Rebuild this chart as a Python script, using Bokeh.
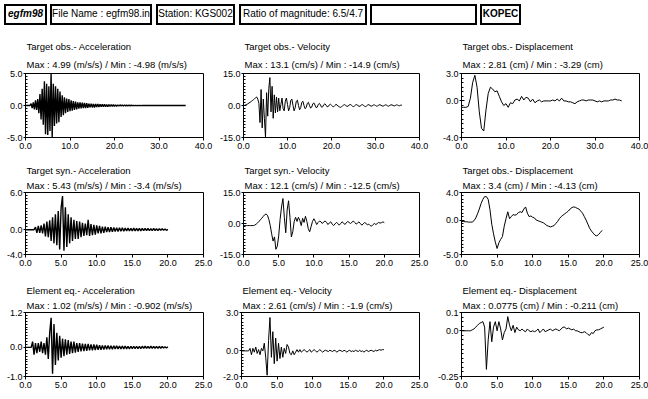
import numpy as np
from bokeh.plotting import figure
from bokeh.models import Div, FixedTicker, Range1d, NumeralTickFormatter, Title
from bokeh.layouts import column, row
from bokeh.embed import file_html
from bokeh.resources import INLINE

# ---------------- header ----------------
header_texts = ["egfm98", "File Name : egfm98.in", "Station: KGS002",
                "Ratio of magnitude: 6.5/4.7", "", "KOPEC"]

# ---------------- panel texts ----------------
titles = ["Target obs.- Acceleration", "Target obs.- Velocity", "Target obs.- Displacement",
          "Target syn.- Acceleration", "Target syn.- Velocity", "Target obs.- Displacement",
          "Element eq.- Acceleration", "Element eq.- Velocity", "Element eq.- Displacement"]
stats = ["Max : 4.99 (m/s/s) / Min : -4.98 (m/s/s)",
         "Max : 13.1 (cm/s) / Min : -14.9 (cm/s)",
         "Max : 2.81 (cm) / Min : -3.29 (cm)",
         "Max : 5.43 (m/s/s) / Min : -3.4 (m/s/s)",
         "Max : 12.1 (cm/s) / Min : -12.5 (cm/s)",
         "Max : 3.4 (cm) / Min : -4.13 (cm)",
         "Max : 1.02 (m/s/s) / Min : -0.902 (m/s/s)",
         "Max : 2.61 (cm/s) / Min : -1.9 (cm/s)",
         "Max : 0.0775 (cm) / Min : -0.211 (cm)"]

x_ticks_obs = [0, 10, 20, 30, 40]
x_ticks_syn = [0, 5, 10, 15, 20, 25]
y_ticks = [[-5, 0, 5], [-15, 0, 15], [-4, 0, 3],
           [-4, 0, 6], [-15, 0, 15], [-5, 0, 4],
           [-1, 0, 1.2], [-2, 0, 3], [-0.25, 0, 0.1]]
y_tick_labels = [["-5.0", "0.0", "5.0"], ["-15.0", "0.0", "15.0"], ["-4.0", "0.0", "3.0"],
                 ["-4.0", "0.0", "6.0"], ["-15.0", "0.0", "15.0"], ["-5.0", "0.0", "4.0"],
                 ["-1.0", "0.0", "1.2"], ["-2.0", "0.0", "3.0"], ["-0.25", "0.0", "0.1"]]
sample_step = [0.25, 0.25, 0.5, 0.2, 0.2, 0.25, 0.2, 0.2, 0.25]   # seconds between samples

# ---------------- time series ----------------
obs_acc = [0, 0, 0, 0,
           0, 0.3, -0.4, 0.5,
           -0.6, 0.8, -0.7, 1.0,
           -1.2, 1.8, -2.2, 2.6,
           -3.0, 3.8, -4.5, 3.4,
           -4.6, 3.0, -4.0, 4.99,
           -4.98, 3.4, -3.2, 3.0,
           -2.8, 2.6, -2.6, 2.2,
           -1.8, 1.6, -1.5, 1.3,
           -1.2, 1.1, -1.0, 1.0,
           -0.9, 0.8, -0.8, 0.7,
           -0.7, 0.6, -0.6, 0.5,
           -0.5, 0.5, -0.45, 0.45,
           -0.4, 0.4, -0.4, 0.35,
           -0.35, 0.3, -0.3, 0.3,
           -0.3, 0.25, -0.3, 0.25,
           -0.25, 0.22, -0.25, 0.2,
           -0.2, 0.2, -0.2, 0.18,
           -0.18, 0.15, -0.18, 0.15,
           -0.15, 0.15, -0.12, 0.12,
           -0.12, 0.1, -0.12, 0.1,
           -0.1, 0.1, -0.08, 0.08,
           -0.08, 0.07, -0.06, 0.06,
           -0.05, 0.05, -0.04, 0.04,
           -0.03, 0.03, -0.03, 0.02,
           -0.02, 0.02, -0.02, 0.02,
           -0.02, 0.02, -0.01, 0.01,
           -0.01, 0.01, -0.01, 0.01,
           -0.01, 0.01, -0.01, 0.01,
           -0.01, 0.01, -0.01, 0.01,
           -0.01, 0.01, -0.01, 0.01,
           -0.01, 0.01, -0.01, 0.01,
           -0.01, 0.01, -0.01, 0.01,
           -0.01, 0.01, -0.01, 0.01,
           -0.01, 0.01, -0.01, 0.01,
           -0.01, 0.01, -0.01, 0.01,
           0]

obs_vel = [0, 0.1, 0.3, 0.5,
           0.8, 1.2, 1.5, 1.9,
           2.3, 2.7, 3.2, 3.6,
           4.0, 3.0, 1.0, -8.0,
           7.5, -10.5, 3.0, -6.0,
           -14.9, 6.0, -5.0, 8.0,
           13.1, -3.0, 9.0, -6.0,
           5.0, -3.5, 4.0, -3.0,
           3.5, -2.5, 0.5, 3.5,
           -1.5, -2.5, 2.0, 3.5,
           0.5, -2.5, -1.0, 2.5,
           3.0, 0.0, -2.5, -1.0,
           2.0, 2.5, 0.0, -2.0,
           -1.0, 1.5, 2.0, 0.0,
           -1.5, -1.0, 1.0, 1.5,
           0.0, -1.2, -0.8, 0.8,
           1.2, 0.2, -1.0, -0.8,
           0.5, 1.0, 0.2, -0.8,
           -0.6, 0.4, 0.8, 0.2,
           -0.6, -0.5, 0.3, 0.6,
           0.1, -0.4, -0.6, 0.0,
           0.5, 0.3, -0.3, -0.6,
           -0.9, -0.6, -0.2, 0.2,
           0.4, 0.0, -0.4, -0.3,
           0.2, 0.5, 0.2, -0.3,
           -0.5, -0.2, 0.3, 0.4,
           0.0, -0.4, -0.3, 0.2,
           0.4, 0.1, -0.3, -0.5,
           -0.2, 0.3, 0.4, 0.0,
           -0.3, -0.2, 0.2, 0.3,
           0.0, -0.3, -0.2, 0.2,
           0.4, 0.1, -0.2, -0.3,
           0.0, 0.3, 0.2, -0.2,
           -0.3, 0.0, 0.3, 0.3,
           0.0, -0.2, 0.0, 0.3,
           0.2, -0.1, -0.1, 0.2,
           0.1]

obs_disp = [-0.7, -0.7, -0.7, -0.6, 0.3, 2.0, 2.81, 1.5, -1.2, -3.0,
            -3.29, -1.0, 0.8, 1.5, 1.3, 1.0, 1.1, 0.5, -0.1, -0.5,
            -0.3, -0.7, -0.2, -0.3, 0.1, 0.2, 0.0, 0.5, 0.1, 0.4,
            0.3, -0.1, 0.2, -0.2, 0.0, 0.1, -0.1, 0.0, 0.0, 0.0,
            0.0, 0.1, 0.0, 0.2, 0.0, 0.3, 0.0, 0.0, -0.1, -0.1,
            -0.2, -0.3, -0.1, 0.0, 0.1, 0.1, 0.0, 0.1, 0.1, 0.1,
            0.0, -0.1, 0.0, -0.1, 0.0, 0.0, 0.0, 0.1, 0.1, 0.2,
            0.1, 0.1, 0.0]

syn_acc = [0, 0, 0, 0, 0, 0, 0,
           0.4, -0.5, 0.6, -0.5, 0.7, -0.6,
           1.0, -1.1, 1.3, -1.2, 1.5,
           -1.8, 2.0, -2.2, 2.5, -2.5,
           3.0, -3.2, 3.5,
           5.43, -3.4, 3.6,
           -2.8, 2.5, -2.2, 2.0, -1.8,
           1.6, -1.5, 1.4, -1.5, 1.3,
           -1.2, 1.1, -1.0, 1.0, -0.9,
           1.6, -1.0, 0.9, -0.9, 0.8,
           -0.8, 0.7, -0.6, 0.6, -0.6,
           0.5, -0.5, 0.5, -0.4, 0.4,
           -0.4, 0.4, -0.35, 0.35, -0.3,
           0.3, -0.3, 0.3, -0.25, 0.3,
           -0.25, 0.25, -0.2, 0.25, -0.2,
           0.2, -0.2, 0.25, -0.2, 0.2,
           -0.2, 0.2, -0.2, 0.2, -0.15,
           0.2, -0.15, 0.2, -0.15, 0.15,
           -0.15, 0.2, -0.15, 0.15, -0.15,
           0.15, -0.1, 0.15, -0.1, 0.1,
           -0.1, 0.05]

syn_vel = [-1, -1, -1, -1, -1, -1, -1, -1, -0.8, -0.3,
           0.3, 1.0, 1.8, 2.6, 3.4, 4.2, 4.6, 4.0, 2.0, -1.0,
           -5.0, -8.5, -6.5, -12.5, -11.0, -6.0, 2.0, 8.0, 12.1, 3.0,
           -4.5, 6.5, 11.0, 3.0, -6.5, -4.0, 1.0, 3.0, 1.0, 3.0,
           1.5, -1.0, 2.5, 0.5, 3.5, 1.0, -2.5, -4.0, -1.5, 1.0,
           2.3, 1.0, -0.5, 0.5, 1.2, 0.8, 0.0, 0.8, 1.2, 0.5,
           -0.5, 0.3, 0.8, -0.3, -1.0, -0.2, 0.5, 0.0, -0.8, 0.0,
           0.8, 0.3, -0.5, 0.3, 1.0, 0.5, 0.0, 0.6, 1.2, 0.5,
           -0.3, 0.2, 0.8, 0.0, -0.8, -0.2, 0.5, 0.0, -0.6, -0.3,
           -1.0, -1.3, -0.5, 0.0, -0.5, 0.0, 0.5, 0.2, 0.4, 0.8,
           0.4]

syn_disp = [-0.2, -0.2, -0.25, -0.25, -0.3, -0.3, -0.3, -0.1, 0.3, 0.9,
            1.6, 2.4, 3.0, 3.4, 3.4, 3.0, 1.5, -0.6, -2.0, -3.2,
            -4.13, -3.3, -2.8, -2.4, -0.9, 0.2, 1.2, 0.2, 0.5, 0.8,
            0.7, 0.8, 1.1, 1.2, 1.1, 1.6, 1.9, 1.0, 0.5, 0.6,
            0.4, 0.3, 0.0, -0.1, -0.2, -0.3, -0.4, -0.6, -0.8, -0.9,
            -1.0, -0.9, -0.8, -0.5, -0.2, 0.2, 0.5, 0.7, 0.9, 1.1,
            1.3, 1.6, 1.8, 1.9, 1.85, 1.7, 1.6, 1.3, 1.0, 0.5,
            0.0, -0.6, -1.2, -1.6, -1.9, -2.2, -2.3, -2.1, -1.8, -1.5]

elem_acc = [0, 0, 0, 0, 0,
            0.2, -0.25, 0.15, -0.2, 0.15,
            -0.15, 0.2, -0.2, 0.15, -0.25,
            0.35, -0.4, 0.5,
            1.02, -0.902, 0.8,
            -0.6, 0.5, -0.45, 0.4, -0.35,
            0.3, -0.3, 0.28, -0.25, 0.25,
            -0.22, 0.2, -0.2, 0.2, -0.18,
            0.15, -0.15, 0.15, -0.14, 0.13,
            -0.13, 0.12, -0.12, 0.12, -0.1,
            0.1, -0.1, 0.1, -0.09, 0.09,
            -0.08, 0.08, -0.08, 0.07, -0.07,
            0.07, -0.06, 0.07, -0.06, 0.06,
            -0.06, 0.06, -0.05, 0.06, -0.05,
            0.05, -0.05, 0.05, -0.05, 0.05,
            -0.05, 0.04, -0.05, 0.04, -0.04,
            0.04, -0.04, 0.04, -0.04, 0.04,
            -0.04, 0.04, -0.03, 0.04, -0.03,
            0.03, -0.03, 0.04, -0.03, 0.03,
            -0.03, 0.03, -0.03, 0.03, -0.03,
            0.03, -0.02, 0.02, -0.02, 0.02]

elem_vel = [0, 0, 0, 0, 0, 0,
            0.2, -0.3, 0.2, -0.1, 0.3,
            -0.2, 0.1, -0.3, 0.2, 0.0,
            0.6, -0.5,
            -1.9, 0.8, 2.61, -0.5, 1.5, -1.0, 1.0, -0.8,
            0.6, -0.6, 0.3, -0.5, 0.2,
            -0.2, 0.5, 0.3, -0.2, -0.3,
            0.0, -0.3, -0.1, 0.1, -0.1,
            0.1, -0.1, 0.0, 0.1, 0.0,
            -0.1, 0.0, 0.1, -0.1, 0.0,
            0.1, 0.0, -0.1, 0.0, 0.1,
            0.0, -0.1, 0.0, 0.05, 0.0,
            -0.05, 0.05, 0.0, -0.05, 0.05,
            0.0, -0.1, 0.0, 0.05, 0.0,
            -0.05, 0.05, 0.0, -0.1, 0.0,
            0.05, -0.05, 0.0, -0.05, 0.05,
            0.0, -0.05, 0.05, -0.05, 0.0,
            -0.1, 0.0, 0.05, -0.05, 0.0,
            0.05, 0.0, -0.05, 0.05, 0.0,
            0.05, 0.1, 0.05, 0.1, 0.1]

elem_disp = [0, 0, 0, 0, 0, 0, 0.005, 0.01, 0.02, 0.03,
             0.04, 0.045, 0.05, 0.02, -0.211, -0.05, 0.05, -0.06, 0.02, 0.05,
             0.0, 0.05, 0.01, -0.05, -0.01, 0.01, 0.0775, 0.03, 0.0, 0.03,
             -0.01, 0.02, 0.005, 0.0, 0.01, 0.0, -0.005, 0.01, 0.0, -0.005,
             0.0, -0.005, 0.0, 0.01, -0.01, 0.0, 0.01, -0.005, 0.0, 0.005,
             0.01, 0.0, 0.005, 0.01, 0.005, 0.0, 0.01, 0.02, 0.02, 0.01,
             0.015, 0.01, 0.005, 0.01, 0.0, 0.0, -0.005, -0.01, -0.01, -0.005,
             -0.01, -0.02, -0.025, -0.01, -0.015, 0.0, 0.005, 0.005, 0.01, 0.015,
             0.02]

series = [obs_acc, obs_vel, obs_disp, syn_acc, syn_vel, syn_disp, elem_acc, elem_vel, elem_disp]

# ---------------- layout / style ----------------
FONT = "Liberation Sans"
FRAME_W = 178
col_borders = [(25, 13), (25, 13), (29, 9)]          # left / right border per column
row_geom = [(40, 64, 16), (39, 62, 19), (39, 64, 19)]  # top border, frame height, bottom border
title_standoff = [(8, 1), (4, 0), (4, 0)]             # (stats line, title line)
minor_steps = [0.5, 1.5, 0.5, 0.5, 1.5, 0.5, 0.1, 0.25, 0.025]
line_widths = [1.4, 1.0, 1.0, 1.4, 1.0, 1.0, 1.4, 1.0, 1.0]


def make_panel(i):
    r, c = divmod(i, 3)
    bl, br = col_borders[c]
    bt, fh, bb = row_geom[r]
    xt = x_ticks_obs if r == 0 else x_ticks_syn
    yt = y_ticks[i]
    p = figure(width=bl + FRAME_W + br, height=bt + fh + bb,
               x_range=Range1d(xt[0], xt[-1]), y_range=Range1d(yt[0], yt[-1]),
               output_backend="svg", toolbar_location=None,
               min_border_left=bl, min_border_right=br,
               min_border_top=bt, min_border_bottom=bb)
    p.xgrid.visible = False
    p.ygrid.visible = False
    p.background_fill_color = "white"
    p.border_fill_color = "white"
    p.outline_line_color = "black"
    p.outline_line_width = 1

    s_stats, s_title = title_standoff[r]
    # the default title is the outer line; the added one sits next to the frame
    p.title.text = titles[i]
    p.title.align = "left"
    p.title.offset = 1
    p.title.standoff = s_title
    p.title.text_font = FONT
    p.title.text_font_size = "9.5px"
    p.title.text_font_style = "normal"
    p.title.text_color = "black"
    p.add_layout(Title(text=stats[i], align="left", offset=1, standoff=s_stats,
                       text_font=FONT, text_font_size="9.5px", text_font_style="normal",
                       text_color="black"), "above")

    vals = series[i]
    t = np.arange(len(vals)) * sample_step[i]
    p.line(t, vals, line_color="black", line_width=line_widths[i])

    # x axis
    xa = p.xaxis[0]
    xa.ticker = FixedTicker(ticks=xt, minor_ticks=[])
    xa.formatter = NumeralTickFormatter(format="0.0")
    xa.major_tick_out = 3
    xa.major_tick_in = 0
    xa.minor_tick_out = 0
    xa.minor_tick_in = 0
    xa.major_label_standoff = 2
    xa.major_label_text_font = FONT
    xa.major_label_text_font_size = "9px"
    xa.major_label_text_color = "black"
    xa.axis_line_color = "black"
    xa.major_tick_line_color = "black"

    # y axis
    ya = p.yaxis[0]
    step = minor_steps[i]
    n = int(round((yt[-1] - yt[0]) / step))
    minors = [round(yt[0] + k * step, 4) for k in range(n + 1)]
    minors = [m for m in minors if all(abs(m - v) > 1e-9 for v in yt)]
    ya.ticker = FixedTicker(ticks=yt, minor_ticks=minors)
    ya.major_label_overrides = {v: s for v, s in zip(yt, y_tick_labels[i])}
    ya.major_tick_out = 2
    ya.major_tick_in = 3
    ya.minor_tick_out = 0
    ya.minor_tick_in = 2
    ya.major_label_standoff = 1
    ya.major_label_text_font = FONT
    ya.major_label_text_font_size = "9px"
    ya.major_label_text_color = "black"
    ya.axis_line_color = "black"
    ya.major_tick_line_color = "black"
    ya.minor_tick_line_color = "black"
    return p


panels = [make_panel(i) for i in range(9)]

# header boxes (left, right) in px
box_x = [(4, 47), (50, 152), (156, 235), (239, 367), (370, 477), (480, 521)]
box_style = ["font-weight:bold;font-style:italic;", "", "", "", "", "font-weight:bold;"]
parts = []
for (x0, x1), txt, st in zip(box_x, header_texts, box_style):
    parts.append(
        f'<div style="position:absolute;left:{x0}px;top:4px;width:{x1 - x0}px;height:21px;'
        f'box-sizing:border-box;border:2px solid #000;display:flex;align-items:center;'
        f'justify-content:center;white-space:nowrap;overflow:visible;'
        f'font-family:\'{FONT}\';font-size:10px;color:#000;{st}">{txt}</div>')
header_html = ('<div style="position:relative;width:648px;height:33px;">' + "".join(parts) + "</div>")
header = Div(text=header_html, width=648, height=33, margin=(0, 0, 0, 0))

layout = column(header,
                row(*panels[0:3]),
                row(*panels[3:6]),
                row(*panels[6:9]))

open("out.html", "w").write(file_html(layout, INLINE))
